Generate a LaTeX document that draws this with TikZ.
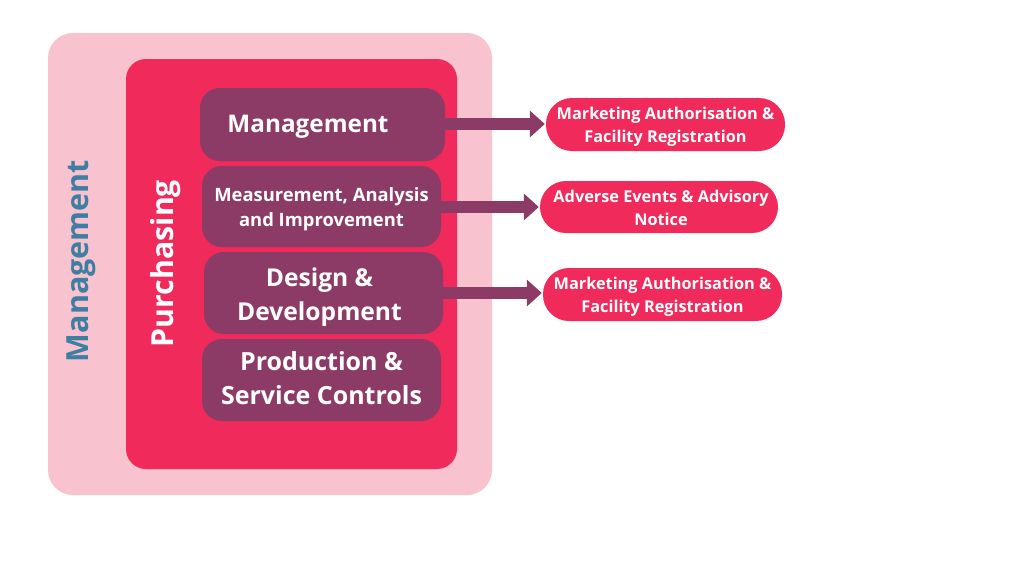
\documentclass[tikz,border=0pt]{standalone}
\usepackage{fontspec}
\setmainfont{Open Sans}
\usetikzlibrary{arrows.meta}
\definecolor{pale}{HTML}{F8C3CE}
\definecolor{hot}{HTML}{F02A5B}
\definecolor{plum}{HTML}{8B3B65}
\definecolor{steel}{HTML}{3E7EA3}
\tikzset{
  boxs/.style={draw=none,fill=plum,rounded corners=20pt,text=white,align=center,inner sep=0pt},
  pill/.style={draw=none,fill=hot,rounded corners=26pt,text=white,font=\bfseries\fontsize{16.3}{23}\selectfont,align=center,inner sep=0pt,minimum width=239pt,minimum height=53pt},
  conn/.style={plum,line width=12pt,-{Triangle[length=15pt,width=26pt]},shorten >=1pt}
}
\begin{document}
\begin{tikzpicture}[x=1pt,y=-1pt]
\useasboundingbox (0,0) rectangle (1024,576);
\fill[white] (0,0) rectangle (1024,576);
\node[fill=pale,rounded corners=25pt,minimum width=444pt,minimum height=462pt,inner sep=0pt] (outer) at (270,264) {};
\node[fill=hot,rounded corners=20pt,minimum width=331pt,minimum height=410pt,inner sep=0pt] (inner) at (291.5,264) {};
\node[rotate=90,text=steel,font=\bfseries\fontsize{30.5}{34}\selectfont] (lblm) at (81,261) {Management};
\node[rotate=90,text=white,font=\bfseries\fontsize{30.3}{34}\selectfont] (lblp) at (166,263.5) {Purchasing};
\node[boxs,minimum width=245pt,minimum height=73pt] (b1) at (322.5,124.5) {};
\node[boxs,minimum width=239pt,minimum height=81pt] (b2) at (321.5,206.5) {};
\node[boxs,minimum width=239pt,minimum height=82pt] (b3) at (323.5,293) {};
\node[boxs,minimum width=239pt,minimum height=82pt] (b4) at (321.5,380) {};
\node[text=white,font=\bfseries\fontsize{24.3}{28}\selectfont] (t1) at (308,127) {Management};
\node[text=white,align=center,font=\bfseries\fontsize{18.4}{25}\selectfont] (t2) at (b2.center) [yshift=-2.5pt] {Measurement, Analysis\\and Improvement};
\node[text=white,align=center,font=\bfseries\fontsize{24.6}{34}\selectfont] (t3) at (b3.center) [xshift=-4pt,yshift=-4pt] {Design \&\\Development};
\node[text=white,align=center,font=\bfseries\fontsize{25}{34}\selectfont] (t4) at (b4.center) [yshift=2pt] {Production \&\\Service Controls};
\node[pill] (p1) at (665.5,124.5) {};
\node[pill,minimum width=238pt,minimum height=52pt] (p2) at (659,207) {};
\node[pill] (p3) at (662.5,294.5) {};
\node[text=white,align=center,font=\bfseries\fontsize{16.3}{23}\selectfont] at (p1.center) [yshift=-2pt] {Marketing Authorisation \&\\Facility Registration};
\node[text=white,align=center,font=\bfseries\fontsize{16.3}{23}\selectfont] at (p2.center) [xshift=2pt,yshift=-1pt] {Adverse Events \& Advisory\\Notice};
\node[text=white,align=center,font=\bfseries\fontsize{16.3}{23}\selectfont] at (p3.center) [yshift=-2pt] {Marketing Authorisation \&\\Facility Registration};
\draw[conn] (b1.east |- 0,124) -- (p1.west |- 0,124);
\draw[conn] (b2.east |- 0,207) -- (p2.west |- 0,207);
\draw[conn] (b3.east |- 0,293) -- (p3.west |- 0,293);
\end{tikzpicture}
\end{document}
